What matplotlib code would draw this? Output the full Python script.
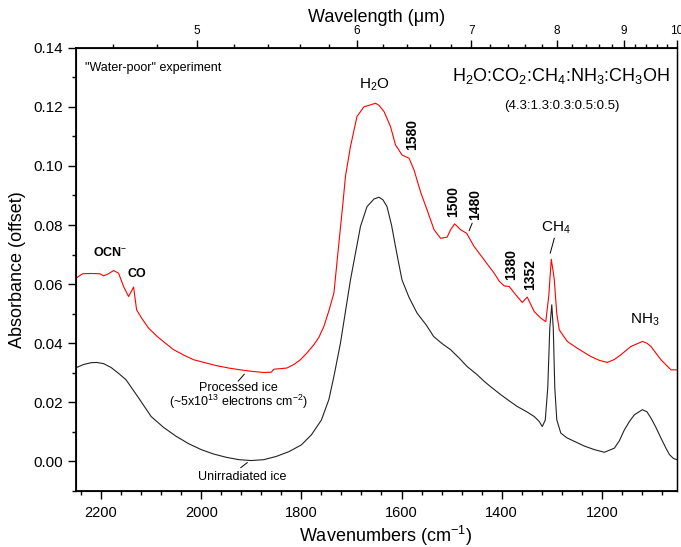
import numpy as np
import matplotlib
matplotlib.use("Agg")
from matplotlib import pyplot as plt
from matplotlib.ticker import MultipleLocator, FixedLocator, NullFormatter

plt.rcParams['font.family'] = ['Liberation Sans', 'DejaVu Sans']
plt.rcParams['mathtext.fontset'] = 'custom'
plt.rcParams['mathtext.rm'] = 'Liberation Sans'
plt.rcParams['mathtext.it'] = 'Liberation Sans:italic'
plt.rcParams['mathtext.bf'] = 'Liberation Sans:bold'

# unirradiated ice (black)
wn_black = [2250, 2235, 2220, 2209, 2195, 2180, 2165, 2150, 2125, 2100, 2075, 2050,
            2025, 2000, 1975, 1950, 1925, 1900, 1875, 1850, 1825, 1800, 1780, 1760,
            1745, 1735, 1722, 1702, 1682, 1669, 1655, 1645, 1637, 1629, 1620, 1612,
            1605, 1599, 1585, 1569, 1550, 1536, 1520, 1502, 1485, 1469, 1450, 1435,
            1420, 1402, 1385, 1369, 1350, 1335, 1325, 1319, 1313, 1308, 1304, 1300,
            1297, 1294, 1290, 1282, 1270, 1255, 1235, 1215, 1195, 1175, 1165, 1155,
            1145, 1135, 1119, 1110, 1102, 1092, 1082, 1072, 1065, 1057, 1050]
abs_black = [0.0317, 0.0328, 0.0334, 0.0335, 0.0331, 0.0318, 0.0298, 0.0276, 0.0215,
             0.0152, 0.0115, 0.0085, 0.0060, 0.0040, 0.0025, 0.0014, 0.0006, 0.0003,
             0.0006, 0.0017, 0.0033, 0.0056, 0.0090, 0.0140, 0.0210, 0.0288, 0.0400,
             0.0614, 0.0795, 0.0862, 0.0888, 0.0894, 0.0885, 0.0862, 0.0800, 0.0727,
             0.0665, 0.0614, 0.0555, 0.0502, 0.0460, 0.0423, 0.0400, 0.0378, 0.0350,
             0.0321, 0.0295, 0.0271, 0.0250, 0.0226, 0.0205, 0.0186, 0.0168, 0.0152,
             0.0135, 0.0118, 0.0140, 0.0250, 0.0450, 0.0530, 0.0450, 0.0250, 0.0141,
             0.0096, 0.0080, 0.0068, 0.0052, 0.0040, 0.0031, 0.0045, 0.0070, 0.0107,
             0.0135, 0.0158, 0.0175, 0.0168, 0.0147, 0.0115, 0.0079, 0.0045, 0.0023,
             0.0010, 0.0006]

# processed ice (red)
wn_red = [2250, 2237, 2220, 2202, 2195, 2185, 2175, 2165, 2155, 2145, 2135, 2129,
          2119, 2105, 2088, 2070, 2055, 2035, 2015, 1990, 1969, 1945, 1922, 1900,
          1875, 1860, 1855, 1829, 1815, 1802, 1790, 1775, 1765, 1755, 1745, 1735,
          1725, 1717, 1712, 1702, 1689, 1675, 1665, 1652, 1645, 1635, 1622, 1612,
          1599, 1585, 1575, 1562, 1549, 1535, 1522, 1509, 1502, 1494, 1482, 1470,
          1455, 1435, 1415, 1405, 1395, 1385, 1372, 1359, 1349, 1335, 1322, 1312,
          1306, 1301, 1297, 1295, 1290, 1285, 1269, 1249, 1222, 1205, 1189, 1175,
          1162, 1142, 1119, 1110, 1102, 1082, 1062, 1050]
abs_red = [0.0620, 0.0635, 0.0636, 0.0635, 0.0628, 0.0635, 0.0646, 0.0637, 0.0592,
           0.0558, 0.0590, 0.0513, 0.0485, 0.0451, 0.0423, 0.0398, 0.0378, 0.0360,
           0.0344, 0.0333, 0.0324, 0.0316, 0.0310, 0.0305, 0.0301, 0.0302, 0.0312,
           0.0316, 0.0328, 0.0344, 0.0365, 0.0395, 0.0420, 0.0457, 0.0510, 0.0570,
           0.0740, 0.0874, 0.0964, 0.1065, 0.1167, 0.1200, 0.1205, 0.1212, 0.1205,
           0.1184, 0.1133, 0.1071, 0.1037, 0.1026, 0.0986, 0.0912, 0.0851, 0.0784,
           0.0755, 0.0759, 0.0784, 0.0804, 0.0784, 0.0772, 0.0727, 0.0682, 0.0637,
           0.0610, 0.0594, 0.0592, 0.0564, 0.0538, 0.0556, 0.0507, 0.0485, 0.0473,
           0.0560, 0.0684, 0.0640, 0.0614, 0.0500, 0.0445, 0.0406, 0.0383, 0.0355,
           0.0342, 0.0335, 0.0345, 0.0361, 0.0389, 0.0406, 0.0400, 0.0389, 0.0344,
           0.0310, 0.0310]

wavelengths = [5, 6, 7, 8, 9, 10]
wavelength_minor = [4.6, 4.8, 5.2, 5.4, 5.6, 5.8, 6.2, 6.4, 6.6, 6.8, 7.2, 7.4,
                    7.6, 7.8, 8.2, 8.4, 8.6, 8.8, 9.2, 9.4, 9.6, 9.8]

fig = plt.figure(figsize=(6.81, 5.47), dpi=100)
ax = fig.add_axes([0.1116, 0.1024, 0.8825, 0.8104])

ax.plot(wn_black, abs_black, color='#222222', lw=0.8)
ax.plot(wn_red, abs_red, color='#ff0000', lw=0.8)

ax.set_xlim(2250, 1050)
ax.set_ylim(-0.01, 0.14)
ax.xaxis.set_major_locator(MultipleLocator(200))
ax.xaxis.set_minor_locator(MultipleLocator(40))
ax.yaxis.set_major_locator(MultipleLocator(0.02))
ax.yaxis.set_minor_locator(MultipleLocator(0.01))
ax.yaxis.set_major_formatter(matplotlib.ticker.FormatStrFormatter('%.2f'))
ax.tick_params(which='major', direction='out', length=6, width=1.0, labelsize=11, pad=3)
ax.tick_params(which='minor', direction='out', length=3, width=1.0)
ax.tick_params(axis='x', labelsize=10.5, pad=5)
ax.tick_params(right=False, top=False)
for s in ax.spines.values():
    s.set_linewidth(1.3)
ax.spines['right'].set_linewidth(1.0)

ax.set_xlabel('Wavenumbers (cm$^{-1}$)', fontsize=13, labelpad=1)
ax.xaxis.set_label_coords(0.515, -0.075)
ax.set_ylabel('Absorbance (offset)', fontsize=13, labelpad=6)

top = ax.twiny()
top.set_xlim(2252, 1000)
top.xaxis.set_major_locator(FixedLocator([1e4 / w for w in wavelengths]))
top.set_xticklabels([str(w) for w in wavelengths])
top.xaxis.set_minor_locator(FixedLocator([1e4 / w for w in wavelength_minor]))
top.xaxis.set_minor_formatter(NullFormatter())
top.tick_params(which='major', direction='out', length=6, width=1.0, labelsize=8.5, pad=2)
top.tick_params(which='minor', direction='out', length=3, width=1.0)
top.set_xlabel('Wavelength (\u03bcm)', fontsize=13, labelpad=2)

# annotations
ax.text(2232, 0.133, '"Water-poor" experiment', fontsize=9, ha='left', va='center')
ax.text(1282, 0.1304, 'H$_2$O:CO$_2$:CH$_4$:NH$_3$:CH$_3$OH', fontsize=13, ha='center', va='center')
ax.text(1279, 0.1203, '(4.3:1.3:0.3:0.5:0.5)', fontsize=9.5, ha='center', va='center')
ax.text(1654, 0.1274, 'H$_2$O', fontsize=11, ha='center', va='center')
ax.text(1579, 0.1105, '1580', fontsize=10, fontweight='bold', rotation=90, ha='center', va='center')
ax.text(1497, 0.0881, '1500', fontsize=10, fontweight='bold', rotation=90, ha='center', va='center')
ax.text(1454, 0.0868, '1480', fontsize=10, fontweight='bold', rotation=90, ha='center', va='center')
ax.plot([1459, 1465], [0.0806, 0.0781], color='black', lw=0.7)
ax.text(1382, 0.0668, '1380', fontsize=10, fontweight='bold', rotation=90, ha='center', va='center')
ax.text(1344, 0.0634, '1352', fontsize=10, fontweight='bold', rotation=90, ha='center', va='center')
ax.text(1292, 0.0789, 'CH$_4$', fontsize=11, ha='center', va='center')
ax.plot([1295, 1303], [0.0755, 0.0705], color='black', lw=0.7)
ax.text(1114, 0.0480, 'NH$_3$', fontsize=11, ha='center', va='center')
ax.text(2182, 0.0707, 'OCN$^{-}$', fontsize=9, fontweight='bold', ha='center', va='center')
ax.text(2129, 0.0634, 'CO', fontsize=9, fontweight='bold', ha='center', va='center')
ax.text(1926, 0.0249, 'Processed ice', fontsize=9, ha='center', va='center')
ax.text(1926, 0.0200, '(~5x10$^{13}$ electrons cm$^{-2}$)', fontsize=9, ha='center', va='center')
ax.plot([1926, 1914], [0.0272, 0.0295], color='black', lw=0.7)
ax.text(1918, -0.0051, 'Unirradiated ice', fontsize=9, ha='center', va='center')
ax.plot([1921, 1908], [-0.0021, -0.0004], color='black', lw=0.7)

fig.savefig('out.png', dpi=100)
